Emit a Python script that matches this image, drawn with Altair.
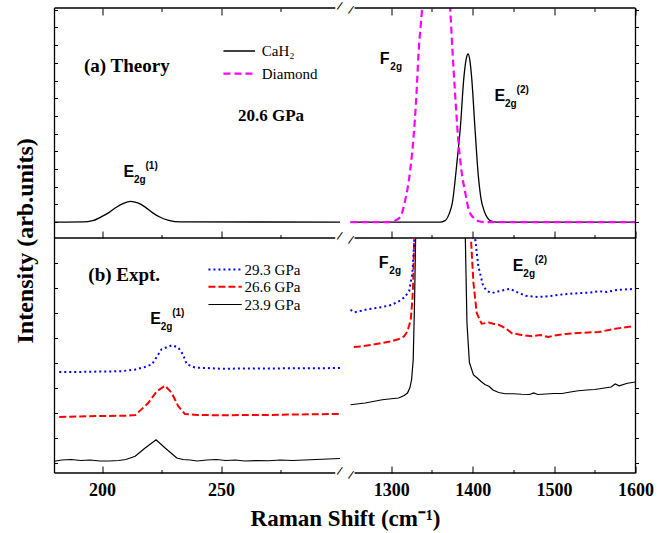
import altair as alt
import pandas as pd

SERIF = "Liberation Serif"
SANS = "Liberation Sans"

# ---------------- shared x axis with a break ----------------
x_domain = [180, 300, 1250, 1600]
x_range = [0, 285.5, 296, 581]
x_major = [200, 250, 1300, 1400, 1500, 1600]
x_minor = [225, 275, 1350, 1450, 1550]
frame_left_seg = [180, 298]
frame_right_seg = [1255, 1600]
break_x = 775

# ---------------- panel (a): theory, 20.6 GPa ----------------
top_domain = [-0.9, 12.1]
top_yticks = list(range(0, 13))

cah2_low_x = [180, 192, 196, 200, 203, 206, 209, 212, 215, 218, 221, 224, 228, 233, 300]
cah2_low_y = [0, 0.01, 0.08, 0.32, 0.55, 0.84, 1.06, 1.17, 1.08, 0.86, 0.55, 0.3, 0.1, 0.01, 0]
cah2_high_x = [1250, 1360, 1366, 1371, 1375, 1381, 1385, 1389, 1392, 1394.5, 1397, 1399,
               1403, 1407, 1410, 1414, 1418, 1422, 1430, 1600]
cah2_high_y = [0, 0, 0.08, 0.45, 1.07, 3.5, 5.4, 8.05, 9.2, 9.5, 9.0, 8.05,
               5.2, 2.6, 1.4, 0.65, 0.25, 0.07, 0, 0]
diamond_x = [1250, 1300, 1303, 1311, 1317, 1323.4, 1327.5, 1330.4, 1333.6, 1337.8, 1342, 1348,
             1355, 1362, 1368, 1372.5, 1375.4, 1377.9, 1382, 1386.1, 1391, 1395.2, 1401.3,
             1407.4, 1415, 1600]
diamond_y = [0, 0, 0.05, 0.28, 1.2, 2.96, 4.85, 6.73, 9.56, 12.0, 15, 18,
             19, 18, 15, 12.0, 9.56, 7.67, 4.85, 2.96, 1.64, 0.7, 0.23,
             0.05, 0, 0]

# ---------------- panel (b): experiment ----------------
bot_domain = [-0.42, 8.98]
bot_yticks = list(range(0, 9))

p239_low_x = [180, 183, 187, 191, 195, 199, 203, 207, 210, 213.9, 218.1, 222.7, 226.5, 231.4,
              234, 237, 240, 244, 248, 252, 256, 260, 265, 270, 275, 280, 285, 290, 295, 300]
p239_low_y = [0.05, 0.1, 0.12, 0.08, 0.1, 0.06, 0.06, 0.08, 0.12, 0.25, 0.58, 0.91, 0.58, 0.18,
              0.12, 0.1, 0.06, 0.1, 0.12, 0.08, 0.1, 0.06, 0.08, 0.07, 0.1, 0.08, 0.1, 0.12, 0.14, 0.16]
p239_high_x = [1250, 1268, 1289, 1300, 1309, 1316, 1320, 1323, 1325, 1327, 1328.7, 1330, 1332,
               1360, 1389, 1391, 1393, 1396, 1401, 1405, 1410, 1415, 1420, 1425, 1432, 1440,
               1450, 1460, 1470, 1475, 1480, 1490, 1500, 1510, 1520, 1530, 1540, 1550, 1560,
               1570, 1575, 1580, 1590, 1600]
p239_high_y = [2.31, 2.38, 2.51, 2.55, 2.58, 2.68, 2.78, 3.0, 3.31, 4.1, 6.5, 9.0, 14,
               20, 14, 9.0, 5.6, 4.0, 3.5, 3.4, 3.25, 3.12, 3.05, 2.9, 2.8, 2.75,
               2.75, 2.73, 2.72, 2.78, 2.72, 2.74, 2.76, 2.76, 2.82, 2.87, 2.9, 2.92, 2.97,
               3.02, 3.14, 3.07, 3.17, 3.22]

p266_low_x = [182, 190, 200, 210, 214, 219.4, 223, 226.5, 229.3, 232, 234.8, 240, 250, 260,
              270, 280, 290, 300]
p266_low_y = [1.82, 1.84, 1.86, 1.87, 1.9, 2.38, 2.85, 3.07, 2.78, 2.25, 1.94, 1.9, 1.89, 1.9,
              1.9, 1.92, 1.93, 1.94]
p266_high_x = [1254, 1265, 1275, 1289, 1300, 1309.6, 1316, 1320, 1324, 1326, 1327, 1328, 1329,
               1331, 1360, 1393, 1396, 1398, 1401, 1405, 1411, 1420, 1425, 1432, 1440, 1448,
               1460, 1473, 1483, 1493, 1500, 1514, 1530, 1555, 1575, 1596]
p266_high_y = [4.62, 4.65, 4.7, 4.78, 4.85, 4.94, 5.05, 5.25, 5.71, 6.51, 7.2, 8.6, 10,
               15, 22, 14, 11, 8.9, 7.18, 5.98, 5.55, 5.6, 5.55, 5.51, 5.38, 5.18,
               5.1, 5.05, 5.1, 5.02, 5.08, 5.14, 5.18, 5.22, 5.35, 5.45]

p293_low_x = [182, 190, 200, 208, 214, 218, 221, 225, 229.4, 232, 234, 235.6, 239, 250, 260,
              270, 280, 290, 300]
p293_low_y = [3.62, 3.62, 3.64, 3.65, 3.72, 3.82, 3.93, 4.53, 4.69, 4.6, 4.32, 3.93, 3.8, 3.75,
              3.76, 3.76, 3.77, 3.77, 3.78]
p293_high_x = [1250, 1255, 1270, 1289, 1300, 1309.6, 1316, 1322, 1326, 1328, 1329.5, 1332,
               1360, 1397, 1400, 1403, 1407, 1413, 1418, 1424, 1432, 1440, 1446, 1452, 1465,
               1481, 1493, 1506, 1520, 1534, 1545, 1555, 1565, 1575, 1585, 1596]
p293_high_y = [6.11, 6.01, 6.12, 6.22, 6.3, 6.45, 6.6, 6.85, 7.58, 8.65, 10, 15,
               22, 15, 11, 8.98, 7.85, 7.05, 6.85, 6.78, 6.85, 6.91, 6.95, 6.85, 6.67,
               6.62, 6.65, 6.71, 6.75, 6.78, 6.8, 6.85, 6.82, 6.89, 6.92, 6.94]

# ---------------- annotations ----------------
top_legend_x = [251.0, 264.3]
top_legend_y = {"CaH₂": 9.67, "Diamond": 8.39}
top_legend_text_x = 267.1
bot_legend_x = [244.7, 258.7]
bot_legend_y = {"29.3 GPa": 7.72, "26.6 GPa": 7.03, "23.9 GPa": 6.32}
bot_legend_text_x = 259.9

top_titles = ["(a) Theory", "20.6 GPa"]
top_titles_x = [210.4, 271.0]
top_titles_y = [8.82, 6.0]
top_titles_size = [19, 17]
bot_titles = ["(b) Expt."]
bot_titles_x = [209.3]
bot_titles_y = [7.5]
bot_titles_size = [19]

top_mode_base = ["E", "F", "E"]
top_mode_sub = ["2g", "2g", "2g"]
top_mode_sup = ["(1)", "", "(2)"]
top_mode_x = [209.0, 1286.0, 1426.9]
top_mode_y = [2.84, 9.2, 7.1]
bot_mode_base = ["E", "F", "E"]
bot_mode_sub = ["2g", "2g", "2g"]
bot_mode_sup = ["(1)", "", "(2)"]
bot_mode_x = [220.2, 1284.8, 1449.4]
bot_mode_y = [5.75, 7.99, 7.87]

xs = alt.Scale(domain=x_domain, range=x_range, nice=False, zero=False)


def series_df(parts):
    rows = []
    for seg, xv, yv in parts:
        for i, (a, b) in enumerate(zip(xv, yv)):
            rows.append({"x": a, "y": b, "seg": seg, "i": i})
    return pd.DataFrame(rows)


def line(df, ys, color, width, dash=None, interp="linear"):
    kw = dict(color=color, strokeWidth=width, clip=True, interpolate=interp)
    if dash:
        kw["strokeDash"] = dash
    return alt.Chart(df).mark_line(**kw).encode(
        x=alt.X("x:Q", scale=xs, axis=None),
        y=alt.Y("y:Q", scale=ys, axis=None),
        detail="seg:N",
        order="i:Q",
    )


def x_axis(orient, values, size, labels=False, title=None):
    kw = dict(orient=orient, values=values, offset=-size, tickSize=size, domain=False,
              grid=False, labels=labels, ticks=True, tickColor="black", tickWidth=1)
    if labels:
        kw.update(labelFont=SERIF, labelFontSize=18, labelFontWeight="bold",
                  labelColor="black", labelPadding=8, labelOverlap=False,
                  labelFlush=False, format="d")
    if title:
        kw.update(title=title, titleFont=SERIF, titleFontSize=23, titleFontWeight="bold",
                  titleColor="black", titlePadding=8)
    else:
        kw["title"] = None
    return alt.Axis(**kw)


def y_axis(orient, values, title=None):
    kw = dict(orient=orient, values=values, tickSize=3, domain=False, grid=False,
              labels=False, ticks=True, tickColor="black", tickWidth=1)
    if orient == "left":
        kw["offset"] = -3
    if title:
        kw.update(title=title, titleFont=SERIF, titleFontSize=24, titleFontWeight="bold",
                  titleColor="black", titleAngle=270, titleAlign="center",
                  titleBaseline="middle", titleX=-32.5, titleY=232.35)
    else:
        kw["title"] = None
    return alt.Axis(**kw)


def frame_layers(ys, ydom, horiz_levels):
    h = pd.DataFrame(
        [{"x": s[0], "x2": s[1], "y": lv} for lv in horiz_levels
         for s in (frame_left_seg, frame_right_seg)]
    )
    v = pd.DataFrame({"x": [x_domain[0], x_domain[-1]],
                      "y": [ydom[0], ydom[0]], "y2": [ydom[1], ydom[1]]})
    br = pd.DataFrame({"x": [break_x] * len(horiz_levels), "y": horiz_levels})
    hl = alt.Chart(h).mark_rule(color="black", strokeWidth=1.3).encode(
        x=alt.X("x:Q", scale=xs, axis=None), x2="x2:Q",
        y=alt.Y("y:Q", scale=ys, axis=None))
    vl = alt.Chart(v).mark_rule(color="black", strokeWidth=1.3).encode(
        x=alt.X("x:Q", scale=xs, axis=None),
        y=alt.Y("y:Q", scale=ys, axis=None), y2="y2:Q")
    brk = []
    for dx in (-6, 6):
        brk.append(alt.Chart(br).mark_text(text="/", font=SANS, fontSize=12, angle=20,
                                           dx=dx, align="center", baseline="middle",
                                           color="black").encode(
            x=alt.X("x:Q", scale=xs, axis=None),
            y=alt.Y("y:Q", scale=ys, axis=None)))
    return [hl, vl] + brk, v


def axis_layer(vdf, ys, xaxis=None, yaxis=None):
    return alt.Chart(vdf).mark_point(opacity=0).encode(
        x=alt.X("x:Q", scale=xs, axis=xaxis),
        y=alt.Y("y:Q", scale=ys, axis=yaxis))


def text_layers(ys, titles, tx, ty, tsize, legend_y, legend_tx, base, sub, sup, mx, my):
    t = pd.DataFrame({"t": titles, "x": tx, "y": ty, "s": tsize})
    layers = []
    for size in sorted(set(tsize)):
        layers.append(alt.Chart(t[t.s == size]).mark_text(
            font=SERIF, fontSize=size, fontWeight="bold", align="center",
            baseline="middle", color="black").encode(
            x=alt.X("x:Q", scale=xs, axis=None), y=alt.Y("y:Q", scale=ys, axis=None),
            text="t:N"))
    lg = pd.DataFrame({"t": list(legend_y.keys()), "x": [legend_tx] * len(legend_y),
                       "y": list(legend_y.values())})
    layers.append(alt.Chart(lg).mark_text(
        font=SERIF, fontSize=15, align="left", baseline="middle", color="black").encode(
        x=alt.X("x:Q", scale=xs, axis=None), y=alt.Y("y:Q", scale=ys, axis=None),
        text="t:N"))
    m = pd.DataFrame({"b": base, "sub": sub, "sup": sup, "x": mx, "y": my})
    enc = dict(x=alt.X("x:Q", scale=xs, axis=None), y=alt.Y("y:Q", scale=ys, axis=None))
    layers.append(alt.Chart(m).mark_text(font=SANS, fontSize=16, fontWeight="bold",
                                         align="left", baseline="middle",
                                         color="black").encode(text="b:N", **enc))
    layers.append(alt.Chart(m).mark_text(font=SANS, fontSize=10, fontWeight="bold",
                                         align="left", baseline="middle", dx=10.5, dy=8,
                                         color="black").encode(text="sub:N", **enc))
    layers.append(alt.Chart(m).mark_text(font=SANS, fontSize=10, fontWeight="bold",
                                         align="left", baseline="middle", dx=22, dy=-6,
                                         color="black").encode(text="sup:N", **enc))
    return layers


# ---------------- top panel ----------------
ys_top = alt.Scale(domain=top_domain, nice=False, zero=False)
black_top = series_df([("low", cah2_low_x, cah2_low_y), ("high", cah2_high_x, cah2_high_y),
                       ("legend", top_legend_x, [top_legend_y["CaH₂"]] * 2)])
mag_top = series_df([("high", diamond_x, diamond_y),
                     ("legend", top_legend_x, [top_legend_y["Diamond"]] * 2)])

fr_top, v_top = frame_layers(ys_top, top_domain, [top_domain[1], top_domain[0]])
top_layers = [
    line(black_top, ys_top, "black", 1.3, interp="monotone"),
    line(mag_top, ys_top, "#FF00FF", 2.2, dash=[7, 4], interp="monotone"),
] + fr_top + text_layers(ys_top, top_titles, top_titles_x, top_titles_y, top_titles_size,
                         top_legend_y, top_legend_text_x, top_mode_base, top_mode_sub,
                         top_mode_sup, top_mode_x, top_mode_y) + [
    axis_layer(v_top, ys_top, xaxis=x_axis("bottom", x_major, 7)),
    axis_layer(v_top, ys_top, xaxis=x_axis("bottom", x_minor, 3.5)),
    axis_layer(v_top, ys_top, xaxis=x_axis("top", x_major, 7)),
    axis_layer(v_top, ys_top, xaxis=x_axis("top", x_minor, 3.5)),
    axis_layer(v_top, ys_top, yaxis=y_axis("left", top_yticks, "Intensity (arb.units)")),
    axis_layer(v_top, ys_top, yaxis=y_axis("right", top_yticks)),
]
top = alt.layer(*top_layers).resolve_axis(x="independent", y="independent").properties(
    width=581, height=230)

# ---------------- bottom panel ----------------
ys_bot = alt.Scale(domain=bot_domain, nice=False, zero=False)
blk = series_df([("low", p239_low_x, p239_low_y), ("high", p239_high_x, p239_high_y),
                 ("legend", bot_legend_x, [bot_legend_y["23.9 GPa"]] * 2)])
red = series_df([("low", p266_low_x, p266_low_y), ("high", p266_high_x, p266_high_y),
                 ("legend", bot_legend_x, [bot_legend_y["26.6 GPa"]] * 2)])
blu = series_df([("low", p293_low_x, p293_low_y), ("high", p293_high_x, p293_high_y),
                 ("legend", bot_legend_x, [bot_legend_y["29.3 GPa"]] * 2)])

fr_bot, v_bot = frame_layers(ys_bot, bot_domain, [bot_domain[0]])
bot_layers = [
    line(blk, ys_bot, "black", 1.2),
    line(red, ys_bot, "#FF0000", 2.0, dash=[7, 3]),
    line(blu, ys_bot, "#0000FF", 2.0, dash=[2, 3]),
] + fr_bot + text_layers(ys_bot, bot_titles, bot_titles_x, bot_titles_y, bot_titles_size,
                         bot_legend_y, bot_legend_text_x, bot_mode_base, bot_mode_sub,
                         bot_mode_sup, bot_mode_x, bot_mode_y) + [
    axis_layer(v_bot, ys_bot, xaxis=x_axis("bottom", x_major, 7, labels=True,
                                           title="Raman Shift (cm⁻¹)")),
    axis_layer(v_bot, ys_bot, xaxis=x_axis("bottom", x_minor, 3.5)),
    axis_layer(v_bot, ys_bot, yaxis=y_axis("left", bot_yticks)),
    axis_layer(v_bot, ys_bot, yaxis=y_axis("right", bot_yticks)),
]
bottom = alt.layer(*bot_layers).resolve_axis(x="independent", y="independent").properties(
    width=581, height=235)

chart = alt.vconcat(top, bottom, spacing=0, bounds="flush").configure_view(
    stroke=None).properties(
    padding={"left": 12.5, "top": -1.0, "right": 5, "bottom": 5}, background="white")

chart.save("out.html", embed_options={"renderer": "svg", "actions": False})
